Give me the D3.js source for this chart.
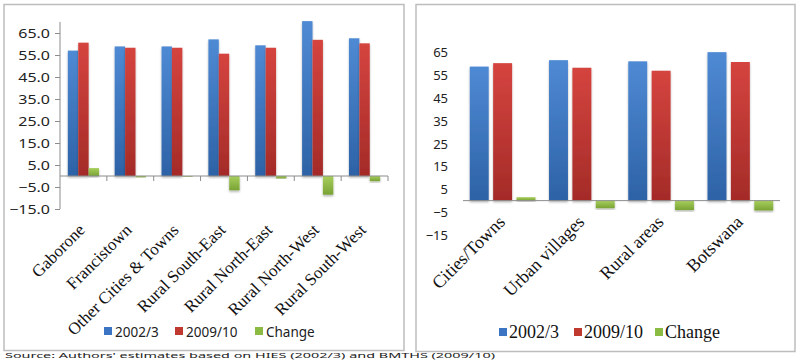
<!DOCTYPE html>
<html><head><meta charset="utf-8">
<script src="https://cdn.jsdelivr.net/npm/d3@7/dist/d3.min.js"></script>
<style>body{margin:0;background:#fff}svg{display:block}</style>
</head><body>
<svg id="c" width="800" height="360"></svg>
<script>
// ---- data ----
const seriesNames = ["2002/3", "2009/10", "Change"];
const leftCats = ["Gaborone","Francistown","Other Cities & Towns","Rural South-East","Rural North-East","Rural North-West","Rural South-West"];
const left0203 = [57.0, 58.9, 58.9, 62.1, 59.4, 70.4, 62.6];
const left0910 = [60.6, 58.3, 58.3, 55.6, 58.3, 61.9, 60.3];
const leftChange = [3.6, -0.6, -0.3, -6.5, -1.1, -8.5, -2.3];
const leftTicks = [-15, -5, 5, 15, 25, 35, 45, 55, 65];

const rightCats = ["Cities/Towns","Urban villages","Rural areas","Botswana"];
const right0203 = [58.5, 61.3, 60.8, 64.8];
const right0910 = [60.0, 58.0, 56.7, 60.5];
const rightChange = [1.5, -3.3, -4.1, -4.3];
const rightTicks = [-15, -5, 5, 15, 25, 35, 45, 55, 65];

const sourceText = "Source: Authors' estimates based on HIES (2002/3) and BMTHS (2009/10)";

// ---- drawing ----
const svg = d3.select("#c");
const defs = svg.append("defs");
const grads = [["gBlue","#4f8ad4","#2d62a6"],["gRed","#d5443f","#a42b28"],["gGreen","#a6cf5c","#7aa336"]];
grads.forEach(([id,a,b])=>{
  const g = defs.append("linearGradient").attr("id",id).attr("x1",0).attr("y1",0).attr("x2",0).attr("y2",1);
  g.append("stop").attr("offset","0%").attr("stop-color",a);
  g.append("stop").attr("offset","100%").attr("stop-color",b);
});
const f = defs.append("filter").attr("id","sh").attr("x","-20%").attr("y","-20%").attr("width","140%").attr("height","140%");
f.append("feDropShadow").attr("dx",0).attr("dy",1.5).attr("stdDeviation",1).attr("flood-color","#000").attr("flood-opacity",0.3);
const fills = ["url(#gBlue)","url(#gRed)","url(#gGreen)"];
const solid = ["#3a74c2","#c0392f","#8cbb44"];

// panel borders
svg.append("rect").attr("x",4).attr("y",4.5).attr("width",400).attr("height",346).attr("fill","none").attr("stroke","#bdbdbd").attr("stroke-width",1.5);
svg.append("rect").attr("x",416).attr("y",4.5).attr("width",379).attr("height",347).attr("fill","none").attr("stroke","#bdbdbd").attr("stroke-width",1.5);

function drawBars(g, cats, vals, x0, x1, y) {
  const rows = cats.map((c,i)=>({c, v: vals.map(s=>s[i])}));
  const grp = g.selectAll("g.cat").data(rows).join("g").attr("class","cat")
    .attr("transform", d=>`translate(${x0(d.c)},0)`);
  grp.selectAll("rect").data(d=>d.v.map((v,k)=>({v,k}))).join("rect")
    .attr("x", d=>x1(seriesNames[d.k]))
    .attr("width", x1.bandwidth())
    .attr("y", d=>Math.min(y(d.v), y(0)))
    .attr("height", d=>Math.abs(y(d.v)-y(0)))
    .attr("fill", d=>fills[d.k])
    .attr("filter","url(#sh)");
}

// ---- left chart ----
{
  const g = svg.append("g");
  const x0 = d3.scaleBand().domain(leftCats).range([60, 388]);
  const gap = (x0.bandwidth() - 31.2)/2;
  const x1 = d3.scaleBand().domain(seriesNames).range([gap, x0.bandwidth()-gap]).paddingInner(0);
  const y = d3.scaleLinear().domain([-15, 70]).range([209, 22]);

  drawBars(g, leftCats, [left0203, left0910, leftChange], x0, x1, y);

  const ya = g.append("g").attr("transform","translate(60,0)")
    .call(d3.axisLeft(y).tickValues(leftTicks).tickFormat(d3.format(".1f")).tickSize(5).tickSizeOuter(0));
  ya.select(".domain").attr("stroke","#8c8c8c");
  ya.selectAll(".tick line").attr("stroke","#8c8c8c");
  ya.selectAll("text").attr("font-family","'Noto Sans', sans-serif").attr("font-size",12.5).attr("fill","#222")
    .attr("transform","scale(1.28,1)").attr("x",-10/1.28).attr("dy","0.36em");
  ya.select(".domain").attr("d", `M0,${y(70)}V${y(-15)}`);

  // zero axis
  g.append("line").attr("x1",60).attr("x2",388).attr("y1",y(0)).attr("y2",y(0)).attr("stroke","#8c8c8c");
  g.selectAll("line.ct").data(leftCats).join("line").attr("class","ct")
    .attr("x1", d=>x0(d)+x0.bandwidth()).attr("x2", d=>x0(d)+x0.bandwidth())
    .attr("y1", y(0)).attr("y2", y(0)+5).attr("stroke","#8c8c8c");

  g.selectAll("text.xl").data(leftCats).join("text").attr("class","xl")
    .attr("transform", d=>`translate(${x0(d)+x0.bandwidth()/2+2.5},231) rotate(-45)`)
    .attr("text-anchor","end").attr("font-family","'Liberation Serif', 'Times New Roman', serif").attr("font-size",17).attr("fill","#111")
    .text(d=>d);

  const lx = [104, 175, 255];
  const lg = g.selectAll("g.lg").data(seriesNames).join("g").attr("class","lg")
    .attr("transform",(d,i)=>`translate(${lx[i]},327)`);
  lg.append("rect").attr("width",8).attr("height",8).attr("fill",(d,i)=>solid[i]);
  lg.append("text").attr("x",11).attr("y",9.5).attr("font-family","'Noto Sans', sans-serif").attr("font-size",13.5).attr("fill","#222").text(d=>d);
}

// ---- right chart ----
{
  const g = svg.append("g");
  const x0 = d3.scaleBand().domain(rightCats).range([463, 780]);
  const gw = 65.7;
  const gap = (x0.bandwidth() - gw)/2;
  const x1 = d3.scaleBand().domain(seriesNames).range([gap, x0.bandwidth()-gap]).paddingInner(0.19);
  const y = d3.scaleLinear().domain([-15, 65]).range([235, 51.7]);

  drawBars(g, rightCats, [right0203, right0910, rightChange], x0, x1, y);

  const ya = g.append("g").attr("transform","translate(458,0)")
    .call(d3.axisLeft(y).tickValues(rightTicks).tickFormat(d3.format("d")).tickSize(0).tickPadding(10));
  ya.select(".domain").remove();
  ya.selectAll("text").attr("font-family","'Noto Sans', sans-serif").attr("font-size",13).attr("fill","#222").attr("dy","0.36em");

  g.append("line").attr("x1",463).attr("x2",780).attr("y1",y(0)).attr("y2",y(0)).attr("stroke","#8c8c8c");

  g.selectAll("text.xl").data(rightCats).join("text").attr("class","xl")
    .attr("transform", d=>`translate(${x0(d)+x0.bandwidth()/2+3.5},223) rotate(-45)`)
    .attr("text-anchor","end").attr("font-family","'Liberation Serif', 'Times New Roman', serif").attr("font-size",18).attr("fill","#111")
    .text(d=>d);

  const lx = [499, 574, 655];
  const lg = g.selectAll("g.lg").data(seriesNames).join("g").attr("class","lg")
    .attr("transform",(d,i)=>`translate(${lx[i]},328)`);
  lg.append("rect").attr("width",8).attr("height",8).attr("fill",(d,i)=>solid[i]);
  lg.append("text").attr("x",10).attr("y",9.5).attr("font-family","'Liberation Serif', 'Times New Roman', serif").attr("font-size",18).attr("fill","#111").text(d=>d);
}

// source note (in the reference it sits at the very bottom edge)
svg.append("text").attr("x",5).attr("y",357.8).attr("font-family","'Noto Sans', sans-serif").attr("font-size",7).attr("fill","#222")
  .attr("textLength",490).attr("lengthAdjust","spacingAndGlyphs").text(sourceText);
</script>
</body></html>
